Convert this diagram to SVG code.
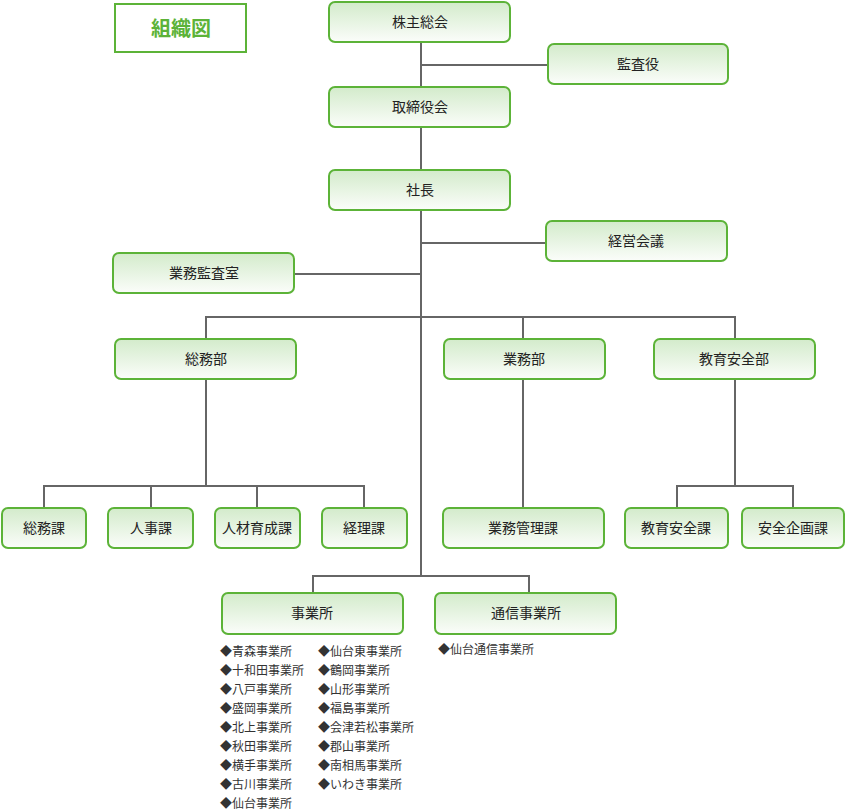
<svg xmlns="http://www.w3.org/2000/svg" width="846" height="810" viewBox="0 0 846 810">
<defs>
<linearGradient id="g" x1="0" y1="0" x2="0" y2="1">
<stop offset="0" stop-color="#d3ebcb"/>
<stop offset="1" stop-color="#fbfdfa"/>
</linearGradient>
<style>
.n rect{fill:url(#g);stroke:#5cb338;stroke-width:2}
.n text{font-family:"Noto Sans CJK JP","Noto Sans",sans-serif;font-size:14px;fill:#222;text-anchor:middle}
.c line{stroke:#666;stroke-width:2}
.l text{font-family:"Noto Sans CJK JP","Noto Sans",sans-serif;font-size:12px;fill:#333}
</style>
</defs>
<rect width="846" height="810" fill="#fff"/>
<g id="title">
<rect x="115" y="4" width="131" height="48" fill="#fff" stroke="#5cb338" stroke-width="2"/>
<text x="181" y="35.5" font-family="'Noto Sans CJK JP',sans-serif" font-size="20" font-weight="bold" fill="#5cb338" text-anchor="middle">組織図</text>
</g>
<g class="c" id="connectors">
<line x1="421" y1="42" x2="421" y2="87"/>
<line x1="421" y1="127" x2="421" y2="170"/>
<line x1="421" y1="210" x2="421" y2="577"/>
<line x1="420" y1="65" x2="548" y2="65"/>
<line x1="420" y1="243" x2="546" y2="243"/>
<line x1="294" y1="274" x2="422" y2="274"/>
<line x1="205" y1="317" x2="736" y2="317"/>
<line x1="206" y1="316" x2="206" y2="339"/>
<line x1="523" y1="316" x2="523" y2="339"/>
<line x1="735" y1="316" x2="735" y2="339"/>
<line x1="206" y1="379" x2="206" y2="487"/>
<line x1="43" y1="486" x2="365" y2="486"/>
<line x1="44" y1="485" x2="44" y2="508"/>
<line x1="151" y1="485" x2="151" y2="508"/>
<line x1="257" y1="485" x2="257" y2="508"/>
<line x1="364" y1="485" x2="364" y2="508"/>
<line x1="523" y1="379" x2="523" y2="508"/>
<line x1="735" y1="379" x2="735" y2="487"/>
<line x1="676" y1="486" x2="794" y2="486"/>
<line x1="677" y1="485" x2="677" y2="508"/>
<line x1="793" y1="485" x2="793" y2="508"/>
<line x1="312" y1="576" x2="530" y2="576"/>
<line x1="313" y1="575" x2="313" y2="593"/>
<line x1="529" y1="575" x2="529" y2="593"/>
</g>
<g class="n" id="n_kabunushi"><rect x="329" y="2" width="181" height="40" rx="6"/><text x="420" y="27">株主総会</text></g>
<g class="n" id="n_kansayaku"><rect x="548" y="44" width="180" height="40" rx="6"/><text x="638" y="69">監査役</text></g>
<g class="n" id="n_torishimariyaku"><rect x="329" y="87" width="181" height="40" rx="6"/><text x="420" y="112">取締役会</text></g>
<g class="n" id="n_shacho"><rect x="329" y="170" width="181" height="40" rx="6"/><text x="420" y="195">社長</text></g>
<g class="n" id="n_keiei"><rect x="546" y="221" width="181" height="40" rx="6"/><text x="636" y="246">経営会議</text></g>
<g class="n" id="n_gyomukansa"><rect x="113" y="253" width="181" height="40" rx="6"/><text x="204" y="278">業務監査室</text></g>
<g class="n" id="n_somubu"><rect x="115" y="339" width="181" height="40" rx="6"/><text x="206" y="364">総務部</text></g>
<g class="n" id="n_gyomubu"><rect x="444" y="339" width="161" height="40" rx="6"/><text x="524" y="364">業務部</text></g>
<g class="n" id="n_kyoikubu"><rect x="654" y="339" width="161" height="40" rx="6"/><text x="734" y="364">教育安全部</text></g>
<g class="n" id="n_somuka"><rect x="2" y="508" width="84" height="40" rx="6"/><text x="44" y="533">総務課</text></g>
<g class="n" id="n_jinjika"><rect x="108" y="508" width="85" height="40" rx="6"/><text x="151" y="533">人事課</text></g>
<g class="n" id="n_jinzaika"><rect x="215" y="508" width="85" height="40" rx="6"/><text x="257" y="533">人材育成課</text></g>
<g class="n" id="n_keirika"><rect x="322" y="508" width="85" height="40" rx="6"/><text x="364" y="533">経理課</text></g>
<g class="n" id="n_gyomukanri"><rect x="443" y="508" width="161" height="40" rx="6"/><text x="523" y="533">業務管理課</text></g>
<g class="n" id="n_kyoikuka"><rect x="625" y="508" width="103" height="40" rx="6"/><text x="676" y="533">教育安全課</text></g>
<g class="n" id="n_kikakuka"><rect x="742" y="508" width="102" height="40" rx="6"/><text x="793" y="533">安全企画課</text></g>
<g class="n" id="n_jigyosho"><rect x="222" y="593" width="181" height="41" rx="6"/><text x="312" y="618">事業所</text></g>
<g class="n" id="n_tsushin"><rect x="435" y="593" width="181" height="41" rx="6"/><text x="526" y="618">通信事業所</text></g>
<g class="l" id="list_jigyosho">
<text x="220" y="656">◆青森事業所</text>
<text x="220" y="675">◆十和田事業所</text>
<text x="220" y="694">◆八戸事業所</text>
<text x="220" y="713">◆盛岡事業所</text>
<text x="220" y="732">◆北上事業所</text>
<text x="220" y="751">◆秋田事業所</text>
<text x="220" y="770">◆横手事業所</text>
<text x="220" y="789">◆古川事業所</text>
<text x="220" y="808">◆仙台事業所</text>
<text x="318" y="656">◆仙台東事業所</text>
<text x="318" y="675">◆鶴岡事業所</text>
<text x="318" y="694">◆山形事業所</text>
<text x="318" y="713">◆福島事業所</text>
<text x="318" y="732">◆会津若松事業所</text>
<text x="318" y="751">◆郡山事業所</text>
<text x="318" y="770">◆南相馬事業所</text>
<text x="318" y="789">◆いわき事業所</text>
</g>
<g class="l" id="list_tsushin">
<text x="438" y="654">◆仙台通信事業所</text>
</g>
</svg>
